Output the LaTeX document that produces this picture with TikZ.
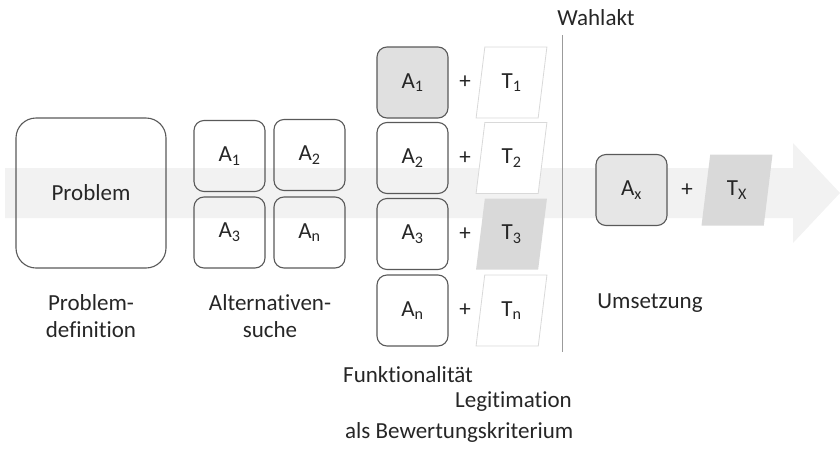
\documentclass[tikz,border=0pt]{standalone}
\usepackage{fontspec}
\setmainfont[Ligatures={NoCommon}]{Carlito}
\usetikzlibrary{shapes.geometric}
\definecolor{band}{HTML}{F2F2F2}
\definecolor{boxline}{HTML}{595959}
\definecolor{selfill}{HTML}{E0E0E0}
\definecolor{tline}{HTML}{D9D9D9}
\definecolor{tfill}{HTML}{D9D9D9}
\definecolor{txt}{HTML}{262626}
\begin{document}
\begin{tikzpicture}[x=1pt,y=-1pt,
  every node/.style={font=\fontsize{23}{27}\selectfont, text=txt},
  abox/.style={draw=boxline, line width=1.1pt, rounded corners=10pt, minimum width=71pt, minimum height=71pt, inner sep=0pt},
  tbox/.style={trapezium, trapezium left angle=80, trapezium right angle=100, trapezium stretches=true, minimum width=71pt, minimum height=71pt, inner sep=0pt},
  topt/.style={tbox, draw=tline, line width=0.8pt, fill=white},
  tsel/.style={tbox, fill=tfill},
  lbl/.style={align=center}]
\useasboundingbox (0,0) rectangle (840,453);
% background arrow
\fill[band] (5,168) -- (793,168) -- (793,143) -- (840,193) -- (793,243) -- (793,218) -- (5,218) -- cycle;
% problem
\node[abox, minimum width=150pt, minimum height=150pt, rounded corners=20pt] (prob) at (91,193) {Problem};
% alternatives grid
\node[abox] (g1) at (229.5,156) {A\textsubscript{1}};
\node[abox] (g2) at (309.5,155) {A\textsubscript{2}};
\node[abox] (g3) at (229.5,232.5) {A\textsubscript{3}};
\node[abox] (gn) at (309.5,232.5) {A\textsubscript{n}};
% evaluation column
\node[abox, fill=selfill] (c1) at (412.5,82.5) {A\textsubscript{1}};
\node[abox] (c2) at (412.5,158) {A\textsubscript{2}};
\node[abox] (c3) at (412.5,234) {A\textsubscript{3}};
\node[abox] (cn) at (412.5,310.5) {A\textsubscript{n}};
\node (p1) at (465,82.5) {+};
\node (p2) at (465,158) {+};
\node (p3) at (465,234) {+};
\node (pn) at (465,310.5) {+};
\node[topt] (t1) at (511.5,82.5) {T\textsubscript{1}};
\node[topt] (t2) at (511.5,158) {T\textsubscript{2}};
\node[tsel] (t3) at (511.5,234) {T\textsubscript{3}};
\node[topt] (tn) at (511.5,310.5) {T\textsubscript{n}};
% divider
\coordinate (lt) at (562,35);
\coordinate (lb) at (562,352);
\draw[boxline!60, line width=0.8pt] (lt) -- (lb);
\node (wahl) at (596,18) {Wahlakt};
% result
\node[abox, fill=selfill!80] (ax) at (631.5,190) {A\textsubscript{x}};
\node (px) at (687,190) {+};
\node[tsel] (tx) at (737,190) {T\textsubscript{X}};
% labels
\node[lbl] (l1) at (91,316) {Problem-\\definition};
\node[lbl] (l2) at (270,316) {Alternativen-\\suche};
\node (l3) at (650,303) {Umsetzung};
\node[anchor=west, inner sep=0pt] (f1) at (343,375) {Funktionalität};
\node[anchor=west, inner sep=0pt] (f2) at (455,402) {Legitimation};
\node[anchor=west, inner sep=0pt] (f3) at (345,432) {als Bewertungskriterium};
\end{tikzpicture}
\end{document}
